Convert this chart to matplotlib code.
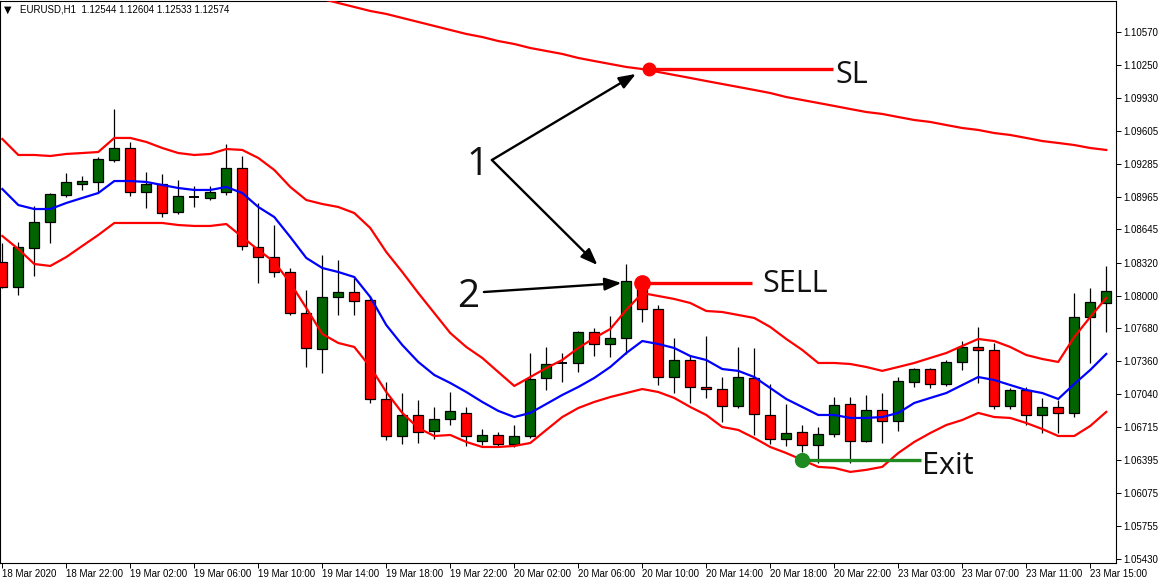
import matplotlib
matplotlib.use("Agg")
import matplotlib.pyplot as plt
from matplotlib.patches import Rectangle

# velas H1 EURUSD (apertura, máximo, mínimo, cierre)
opens = [1.08328, 1.08084, 1.08464, 1.08718, 1.08981, 1.09088, 1.09108, 1.09322, 1.09439, 1.09010,
         1.09088, 1.08815, 1.08961, 1.08952, 1.09010, 1.09244, 1.08474, 1.08376, 1.08230, 1.07830,
         1.07479, 1.07986, 1.08035, 1.07957, 1.06992, 1.06631, 1.06836, 1.06680, 1.06797, 1.06856,
         1.06582, 1.06641, 1.06553, 1.06631, 1.07197, 1.07343, 1.07343, 1.07645, 1.07528, 1.07587,
         1.08123, 1.07869, 1.07206, 1.07372, 1.07109, 1.07089, 1.06924, 1.07197, 1.06836, 1.06602,
         1.06670, 1.06544, 1.06651, 1.06943, 1.06582, 1.06885, 1.06777, 1.07158, 1.07284, 1.07138,
         1.07353, 1.07499, 1.07470, 1.06924, 1.07080, 1.06836, 1.06914, 1.06856, 1.07791, 1.07928]
highs = [1.08513, 1.08523, 1.08874, 1.09000, 1.09195, 1.09166, 1.09351, 1.09819, 1.09498, 1.09205,
         1.09186, 1.09127, 1.09069, 1.09069, 1.09478, 1.09361, 1.08903, 1.08688, 1.08269, 1.08055,
         1.08396, 1.08347, 1.08172, 1.07996, 1.07158, 1.07050, 1.06982, 1.06914, 1.07060, 1.06914,
         1.06699, 1.06670, 1.06738, 1.07440, 1.07499, 1.07440, 1.07655, 1.07684, 1.07801, 1.08308,
         1.08172, 1.07908, 1.07587, 1.07421, 1.07606, 1.07206, 1.07499, 1.07489, 1.07138, 1.06943,
         1.06738, 1.06719, 1.07011, 1.07011, 1.07031, 1.07050, 1.07206, 1.07294, 1.07294, 1.07372,
         1.07557, 1.07694, 1.07538, 1.07099, 1.07109, 1.07002, 1.06982, 1.08025, 1.08074, 1.08289]
lows = [1.08074, 1.08006, 1.08191, 1.08513, 1.08961, 1.09030, 1.09000, 1.09303, 1.08971, 1.08854,
        1.08766, 1.08796, 1.08864, 1.08932, 1.08981, 1.08445, 1.08123, 1.08181, 1.07811, 1.07304,
        1.07245, 1.07811, 1.07811, 1.06953, 1.06592, 1.06553, 1.06563, 1.06602, 1.06738, 1.06534,
        1.06544, 1.06524, 1.06524, 1.06612, 1.07080, 1.07158, 1.07255, 1.07411, 1.07401, 1.07431,
        1.07743, 1.07128, 1.07050, 1.06953, 1.07002, 1.06768, 1.06904, 1.06641, 1.06553, 1.06534,
        1.06475, 1.06368, 1.06621, 1.06368, 1.06575, 1.06563, 1.06680, 1.07109, 1.07099, 1.07119,
        1.07275, 1.07148, 1.06894, 1.06894, 1.06738, 1.06660, 1.06660, 1.06816, 1.07343, 1.07645]
closes = [1.08084, 1.08474, 1.08718, 1.08991, 1.09108, 1.09117, 1.09332, 1.09439, 1.09010, 1.09088,
          1.08805, 1.08971, 1.08961, 1.09010, 1.09244, 1.08484, 1.08376, 1.08230, 1.07830, 1.07489,
          1.07986, 1.08035, 1.07947, 1.06992, 1.06631, 1.06836, 1.06670, 1.06797, 1.06876, 1.06631,
          1.06641, 1.06553, 1.06631, 1.07187, 1.07333, 1.07343, 1.07645, 1.07528, 1.07587, 1.08142,
          1.07869, 1.07206, 1.07372, 1.07109, 1.07089, 1.06924, 1.07206, 1.06846, 1.06602, 1.06660,
          1.06544, 1.06651, 1.06933, 1.06582, 1.06885, 1.06777, 1.07167, 1.07284, 1.07138, 1.07353,
          1.07499, 1.07470, 1.06924, 1.07080, 1.06836, 1.06914, 1.06856, 1.07791, 1.07938, 1.08045]

# bandas (superior, media, inferior) y media lenta
band_upper = [1.09527, 1.09371, 1.09371, 1.09361, 1.09381, 1.09390, 1.09400, 1.09537, 1.09537, 1.09498,
              1.09439, 1.09390, 1.09371, 1.09381, 1.09429, 1.09420, 1.09342, 1.09225, 1.09059, 1.08932,
              1.08893, 1.08864, 1.08805, 1.08659, 1.08425, 1.08230, 1.08025, 1.07830, 1.07635, 1.07499,
              1.07392, 1.07255, 1.07119, 1.07206, 1.07294, 1.07372, 1.07489, 1.07587, 1.07674, 1.07860,
              1.08025, 1.07996, 1.07967, 1.07928, 1.07850, 1.07840, 1.07811, 1.07782, 1.07694, 1.07577,
              1.07470, 1.07343, 1.07343, 1.07333, 1.07304, 1.07266, 1.07304, 1.07343, 1.07392, 1.07440,
              1.07509, 1.07577, 1.07557, 1.07499, 1.07421, 1.07382, 1.07353, 1.07596, 1.07791, 1.07977]
band_mid = [1.09039, 1.08883, 1.08844, 1.08844, 1.08903, 1.08952, 1.09000, 1.09117, 1.09117, 1.09108,
            1.09078, 1.09049, 1.09030, 1.09030, 1.09059, 1.09000, 1.08864, 1.08766, 1.08571, 1.08367,
            1.08269, 1.08230, 1.08181, 1.07986, 1.07713, 1.07518, 1.07353, 1.07226, 1.07148, 1.07060,
            1.06963, 1.06876, 1.06816, 1.06856, 1.06943, 1.07031, 1.07109, 1.07197, 1.07304, 1.07440,
            1.07557, 1.07528, 1.07489, 1.07411, 1.07372, 1.07284, 1.07266, 1.07206, 1.07099, 1.06992,
            1.06914, 1.06836, 1.06836, 1.06807, 1.06807, 1.06816, 1.06856, 1.06953, 1.07002, 1.07050,
            1.07128, 1.07206, 1.07177, 1.07128, 1.07080, 1.07050, 1.06992, 1.07138, 1.07275, 1.07431]
band_lower = [1.08581, 1.08454, 1.08308, 1.08289, 1.08376, 1.08484, 1.08591, 1.08708, 1.08708, 1.08708,
              1.08708, 1.08688, 1.08679, 1.08679, 1.08698, 1.08571, 1.08445, 1.08328, 1.08123, 1.07879,
              1.07626, 1.07538, 1.07499, 1.07304, 1.07060, 1.06856, 1.06709, 1.06631, 1.06641, 1.06573,
              1.06524, 1.06524, 1.06534, 1.06563, 1.06690, 1.06816, 1.06904, 1.06963, 1.07011, 1.07050,
              1.07089, 1.07060, 1.07002, 1.06914, 1.06836, 1.06719, 1.06690, 1.06612, 1.06524, 1.06465,
              1.06397, 1.06330, 1.06320, 1.06281, 1.06301, 1.06330, 1.06465, 1.06573, 1.06660, 1.06738,
              1.06787, 1.06856, 1.06816, 1.06807, 1.06758, 1.06699, 1.06631, 1.06631, 1.06729, 1.06866]
slow_ma_start = 19
slow_ma = [1.10931, 1.10892, 1.10853, 1.10814, 1.10775, 1.10746, 1.10707, 1.10668, 1.10629, 1.10590,
           1.10551, 1.10521, 1.10482, 1.10453, 1.10414, 1.10385, 1.10356, 1.10317, 1.10287, 1.10258,
           1.10229, 1.10209, 1.10180, 1.10151, 1.10122, 1.10092, 1.10063, 1.10034, 1.10005, 1.09975,
           1.09936, 1.09907, 1.09878, 1.09849, 1.09819, 1.09790, 1.09771, 1.09741, 1.09712, 1.09693,
           1.09663, 1.09634, 1.09615, 1.09585, 1.09566, 1.09537, 1.09507, 1.09488, 1.09468, 1.09439,
           1.09420]

time_tick_bars = list(range(0, 70, 4))
time_labels = ["18 Mar 2020", "18 Mar 22:00", "19 Mar 02:00", "19 Mar 06:00", "19 Mar 10:00",
               "19 Mar 14:00", "19 Mar 18:00", "19 Mar 22:00", "20 Mar 02:00", "20 Mar 06:00",
               "20 Mar 10:00", "20 Mar 14:00", "20 Mar 18:00", "20 Mar 22:00", "23 Mar 03:00",
               "23 Mar 07:00", "23 Mar 11:00", "23 Mar 15:00"]
price_ticks = [1.10570, 1.10250, 1.09930, 1.09605, 1.09285, 1.08965, 1.08645, 1.08320, 1.08000,
               1.07680, 1.07360, 1.07040, 1.06715, 1.06395, 1.06075, 1.05755, 1.05430]
header = "EURUSD,H1  1.12544 1.12604 1.12533 1.12574"

# señales marcadas sobre el gráfico
entry_bar = 40
exit_bar = 50

UP = "#006400"
DOWN = "#ff0000"
INK = "#111111"
EXIT_GREEN = "#1f8a1f"
BODY_W = 0.62
BIG = ["Open Sans", "DejaVu Sans"]

plt.rcParams["font.family"] = ["Liberation Sans", "DejaVu Sans"]

fig = plt.figure(figsize=(11.63, 5.82), dpi=100)
ax = fig.add_axes([0, 19 / 582, 1116 / 1163, 562 / 582])
ax.set_xlim(-0.144, 69.61)
ax.set_ylim(1.053928, 1.108723)

n = len(opens)
for i in range(n):
    o, h, l, c = opens[i], highs[i], lows[i], closes[i]
    ax.vlines(i, l, h, color="black", lw=0.9, zorder=2)
    if abs(c - o) < 1e-6:
        ax.hlines(o, i - BODY_W / 2, i + BODY_W / 2, color="black", lw=1.4, zorder=3)
        continue
    col = UP if c > o else DOWN
    ax.add_patch(Rectangle((i - BODY_W / 2, min(o, c)), BODY_W, abs(c - o),
                           facecolor=col, edgecolor="black", lw=0.9, zorder=3))

bars = list(range(n))
ax.plot(bars, band_upper, color="#ff0000", lw=1.6, zorder=4)
ax.plot(bars, band_lower, color="#ff0000", lw=1.6, zorder=4)
ax.plot(bars, band_mid, color="#0000ff", lw=1.6, zorder=4)
ax.plot(range(slow_ma_start, slow_ma_start + len(slow_ma)), slow_ma,
        color="#ff0000", lw=1.6, zorder=4)


def label(txt, x, y, size=22, dy=-4, ha="left"):
    ax.annotate(txt, (x, y), xytext=(0, dy), textcoords="offset points", fontsize=size,
                color=INK, va="center", ha=ha, family=BIG, zorder=8)


# SL sobre la media lenta
sl_x = entry_bar + 0.4
sl_y = slow_ma[entry_bar - slow_ma_start]
ax.plot([sl_x, 51.9], [sl_y, sl_y], color="#ff0000", lw=2.4, zorder=6, solid_capstyle="butt")
ax.plot(sl_x, sl_y, "o", color="#ff0000", ms=9, zorder=7)
label("SL", 52.1, sl_y)

# entrada SELL
sell_y = opens[entry_bar]
ax.plot([entry_bar, 46.85], [sell_y, sell_y], color="#ff0000", lw=2.4, zorder=6,
        solid_capstyle="butt")
ax.plot(entry_bar, sell_y, "o", color="#ff0000", ms=11, zorder=7)
label("SELL", 47.5, sell_y, dy=-1)

# salida en la banda inferior
ex_y = band_lower[exit_bar]
ax.plot([exit_bar, 57.4], [ex_y, ex_y], color=EXIT_GREEN, lw=2.4, zorder=6,
        solid_capstyle="butt")
ax.plot(exit_bar, ex_y, "o", color=EXIT_GREEN, ms=10, zorder=7)
label("Exit", 57.5, ex_y, dy=-4)

# etiquetas 1 y 2 con flechas
arrow = dict(arrowstyle="-|>,head_length=1.0,head_width=0.38", color="black", lw=1.7,
             shrinkA=0, shrinkB=0)
label("1", 29.7, 1.09312, size=28, dy=-3, ha="center")
ax.annotate("", xy=(39.6, 1.10161), xytext=(30.6, 1.09322), arrowprops=arrow, zorder=8)
ax.annotate("", xy=(37.2, 1.08298), xytext=(30.6, 1.09322), arrowprops=arrow, zorder=8)
label("2", 29.1, 1.08025, size=28, dy=-3, ha="center")
ax.annotate("", xy=(38.7, 1.08123), xytext=(30.1, 1.08035), arrowprops=arrow, zorder=8)

# ejes estilo MT4
for s in ax.spines.values():
    s.set_color("black")
    s.set_linewidth(0.8)
ax.yaxis.tick_right()
ax.set_yticks(price_ticks)
ax.set_yticklabels([f"{p:.5f}" for p in price_ticks])
ax.set_xticks(time_tick_bars)
ax.set_xticklabels(time_labels, ha="left")
ax.tick_params(axis="both", direction="out", length=3.5, width=0.7, labelsize=7,
               colors="black", pad=2)
ax.tick_params(axis="x", pad=1)
ax.set_facecolor("white")

ax.text(0.004, 0.984, "\u25bc", transform=ax.transAxes, fontsize=7, va="center",
        family="DejaVu Sans")
ax.text(0.018, 0.984, header, transform=ax.transAxes, fontsize=7, va="center")

fig.savefig("out.png", dpi=100, facecolor="white")
